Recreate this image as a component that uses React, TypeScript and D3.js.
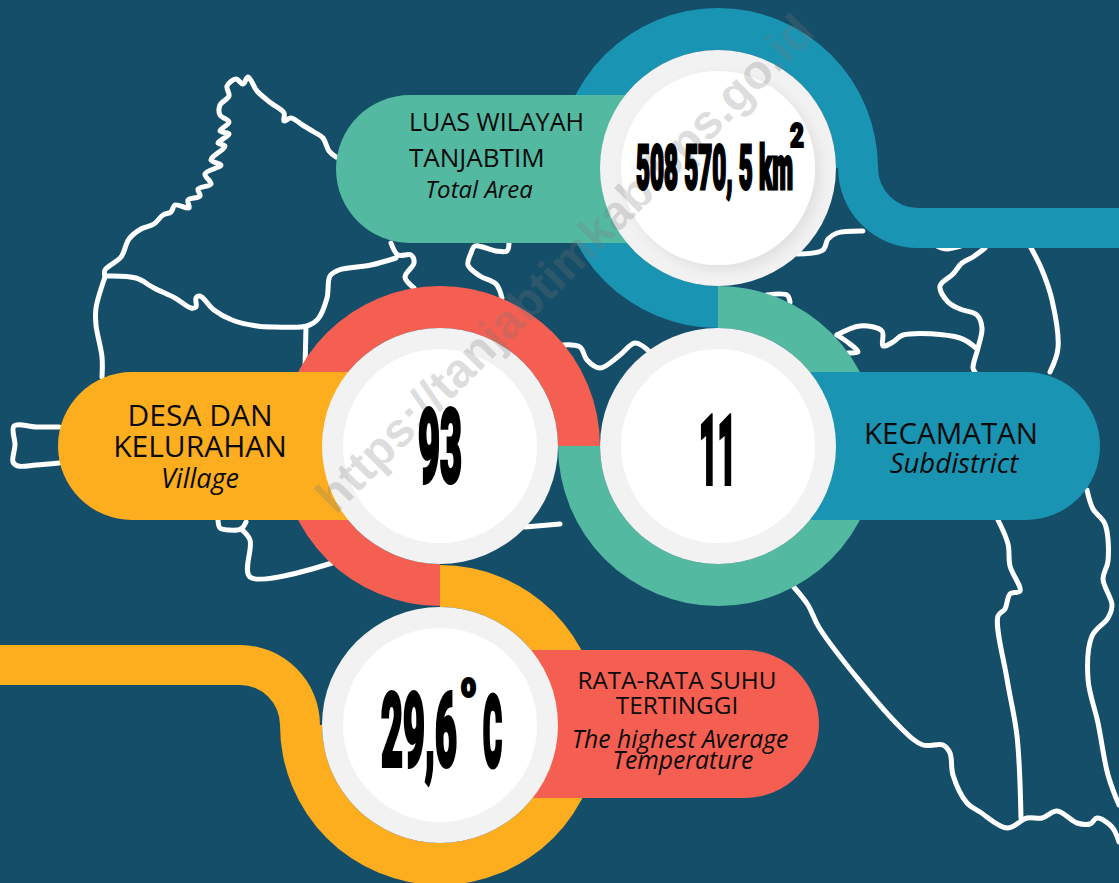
import React from "react";
import * as d3 from "d3";

const W = 1119;
const H = 883;

// --- content ---
const areaLabel = ["LUAS WILAYAH", "TANJABTIM"];
const areaLabelEn = "Total Area";
const areaValue = "508 570, 5 km";
const villageLabel = ["DESA DAN", "KELURAHAN"];
const villageLabelEn = "Village";
const villageValue = "93";
const subdistrictLabel = "KECAMATAN";
const subdistrictLabelEn = "Subdistrict";
const subdistrictValue = "11";
const tempLabel = ["RATA-RATA SUHU", "TERTINGGI"];
const tempLabelEn = ["The highest Average", "Temperature"];
const tempValue = "29,6";
const watermark = "https://tanjabtimkab.bps.go.id";

// --- map outline, one list per border ---
type Pt = [number, number];
const northBorder: Pt[] = [[336,157],[329,151],[323,138],[314,132],[304,126],[291,118],[284,121],[284,113],[271,103],[257,91],[248,77],[243,84],[236,79],[227,86],[229,96],[220,105],[220,115],[229,122],[220,131],[229,134],[218,143],[225,146],[211,160],[221,165],[205,174],[211,184],[198,189],[200,196],[188,200],[189,208],[175,205],[171,212],[163,215],[154,224],[141,229],[129,239],[121,257],[105,270],[105,277]];
const innerBorder: Pt[] = [[105,276],[136,278],[154,288],[175,298],[191,308],[196,307],[196,298],[200,296],[214,310],[232,320],[257,326],[275,327],[307,326],[318,319],[327,298],[330,276],[339,270],[371,265],[396,258]];
const riverA: Pt[] = [[391,243],[398,255],[411,255],[414,263],[405,277],[414,288]];
const westBorder: Pt[] = [[105,277],[96,308],[96,325],[102,357],[102,377]];
const stub: Pt[] = [[306,327],[305,367]];
const westBox: Pt[] = [[59,427],[36,427],[14,426],[15,445],[13,462],[18,466],[36,465],[59,463]];
const riverB: Pt[] = [[509,243],[507,251],[496,251],[475,246],[471,253],[468,265],[480,276],[496,284],[502,298]];
const southA: Pt[] = [[218,520],[220,528],[229,530],[241,529],[246,522]];
const southB: Pt[] = [[241,529],[250,540],[250,577],[332,563]];
const southC: Pt[] = [[525,527],[560,524]];
const midCoast: Pt[] = [[563,345],[580,347],[587,360],[600,368],[620,355],[635,343],[650,352]];
const eastA: Pt[] = [[797,254],[823,250],[828,239],[837,233],[863,231]];
const eastB: Pt[] = [[937,246],[947,249],[967,244]];
const eastC: Pt[] = [[985,248],[973,257],[962,263],[953,274],[940,286],[948,302],[960,309],[977,315],[982,328],[978,348],[973,368],[975,372]];
const eastD: Pt[] = [[837,335],[860,326],[882,331],[883,346],[893,342],[903,335],[960,338],[977,349]];
const eastE: Pt[] = [[837,335],[850,344],[858,352],[848,353]];
const eastF: Pt[] = [[767,295],[787,295],[790,302]];
const rightA: Pt[] = [[1030,246],[1042,270],[1052,300],[1058,348],[1050,372]];
const rightB: Pt[] = [[1087,490],[1093,509],[1105,524],[1108,561],[1103,579],[1112,605],[1108,618],[1092,636],[1088,679],[1098,723],[1108,775],[1119,805]];
const rightC: Pt[] = [[998,520],[1008,544],[1010,566],[1020,591],[1010,594],[1005,609],[998,616],[1007,679],[1017,736],[1021,818]];
const coast: Pt[] = [[792,585],[808,605],[820,629],[900,727],[923,745],[943,745],[950,753],[953,775],[967,803],[980,812],[1007,828],[1027,818],[1042,818],[1057,811],[1077,823],[1090,824],[1097,818],[1112,827],[1119,842]];
const borders = [northBorder, innerBorder, riverA, westBorder, stub, westBox, riverB, southA, southB, southC, midCoast, eastA, eastB, eastC, eastD, eastE, eastF, rightA, rightB, rightC, coast];

const BG = "#154e69";
const TEAL = "#54b9a1";
const BLUE = "#1a94b3";
const RED = "#f55f52";
const ORANGE = "#fdae1f";

const line = d3.line().curve(d3.curveCatmullRom.alpha(0.5));
const ring = d3.arc().innerRadius(118).outerRadius(160);
const bend = d3.arc().innerRadius(40).outerRadius(80);
const PI = Math.PI;

const sans = "'Open Sans', sans-serif";

// squeezed heavy digits, the poster face is not installed
const Heavy = ({ x, y, w, h, sw = 3, children }: any) => (
  <text x={x} y={y} fontFamily="Roboto" fontWeight={900} fontSize={h / 0.71}
    textLength={w} lengthAdjust="spacingAndGlyphs" fill="#000" stroke="#000" strokeWidth={sw}>
    {children}
  </text>
);

const Label = ({ x, y, size, italic, anchor = "middle", fit, children }: any) => (
  <text x={x} y={y} fontFamily={sans} fontSize={size} fontStyle={italic ? "italic" : "normal"}
    textAnchor={anchor} fill="#0a0a0a" textLength={fit} lengthAdjust={fit ? "spacingAndGlyphs" : undefined}>
    {children}
  </text>
);

const Disc = ({ cx, cy, shadow }: any) => (
  <g>
    <circle cx={cx} cy={cy} r={118} fill="#f2f2f2" />
    <circle cx={cx} cy={cy} r={97} fill="#fff" filter={shadow ? "url(#soft)" : undefined} />
  </g>
);

export default function App() {
  return (
    <svg width={W} height={H} style={{ position: "absolute", left: 0, top: 0, background: BG }}>
      <defs>
        <filter id="soft" x="-20%" y="-20%" width="140%" height="140%">
          <feDropShadow dx={5} dy={5} stdDeviation={6} floodColor="#000" floodOpacity={0.08} />
        </filter>
      </defs>

      <g fill="none" stroke="#fff" strokeWidth={5} strokeLinejoin="round" strokeLinecap="round">
        {borders.map((b, i) => <path key={i} d={line(b) as string} />)}
      </g>

      {/* top ring and its tail to the right */}
      <path transform="translate(718,168)" fill={BLUE} d={ring({ startAngle: -PI, endAngle: PI / 2 } as any) as string} />
      <path transform="translate(918,168)" fill={BLUE} d={bend({ startAngle: -PI, endAngle: -PI / 2 } as any) as string} />
      <rect x={918} y={208} width={W - 918} height={40} fill={BLUE} />

      <path transform="translate(440,446)" fill={RED} d={ring({ startAngle: -PI, endAngle: PI / 2 } as any) as string} />
      <path transform="translate(718,446)" fill={TEAL} d={ring({ startAngle: 0, endAngle: (3 * PI) / 2 } as any) as string} />

      {/* bottom ring and its tail to the left */}
      <path transform="translate(440,725)" fill={ORANGE} d={ring({ startAngle: 0, endAngle: (3 * PI) / 2 } as any) as string} />
      <path transform="translate(240,725)" fill={ORANGE} d={bend({ startAngle: 0, endAngle: PI / 2 } as any) as string} />
      <rect x={0} y={645} width={240} height={40} fill={ORANGE} />

      {/* pills: rounded on the free end, square where they go under the disc */}
      <rect x={336} y={95} width={300} height={148} rx={74} fill={TEAL} />
      <rect x={420} y={95} width={298} height={148} fill={TEAL} />
      <rect x={58} y={372} width={300} height={148} rx={74} fill={ORANGE} />
      <rect x={140} y={372} width={300} height={148} fill={ORANGE} />
      <rect x={800} y={372} width={300} height={148} rx={74} fill={BLUE} />
      <rect x={718} y={372} width={300} height={148} fill={BLUE} />
      <rect x={519} y={650} width={300} height={148} rx={74} fill={RED} />
      <rect x={440} y={650} width={300} height={148} fill={RED} />

      <Disc cx={718} cy={168} shadow />
      <Disc cx={440} cy={446} />
      <Disc cx={718} cy={446} />
      <Disc cx={440} cy={725} />

      <Label x={409} y={131} size={26} anchor="start" fit={175}>{areaLabel[0]}</Label>
      <Label x={409} y={167} size={26} anchor="start">{areaLabel[1]}</Label>
      <Label x={479} y={198} size={24} italic>{areaLabelEn}</Label>

      <Label x={200} y={426} size={30}>{villageLabel[0]}</Label>
      <Label x={200} y={457} size={30}>{villageLabel[1]}</Label>
      <Label x={200} y={488} size={27} italic>{villageLabelEn}</Label>

      <Label x={951} y={444} size={29.5}>{subdistrictLabel}</Label>
      <Label x={954} y={473} size={27.5} italic>{subdistrictLabelEn}</Label>

      <Label x={677} y={689} size={24.3}>{tempLabel[0]}</Label>
      <Label x={677} y={714} size={24.3}>{tempLabel[1]}</Label>
      <Label x={680} y={748} size={24.7} italic>{tempLabelEn[0]}</Label>
      <Label x={683} y={769} size={24.7} italic>{tempLabelEn[1]}</Label>

      <text transform="translate(576,275) rotate(-45)" textAnchor="middle" fontFamily="'Liberation Sans'"
        fontWeight="bold" fontSize={48} textLength={680} lengthAdjust="spacingAndGlyphs"
        fill="#787878" fillOpacity={0.26}>
        {watermark}
      </text>

      <Heavy x={636} y={189} w={157} h={44}>{areaValue}</Heavy>
      <Heavy x={790} y={147} w={14} h={23} sw={2}>2</Heavy>
      <Heavy x={418} y={482} w={44} h={73} sw={4}>{villageValue}</Heavy>
      <Heavy x={699} y={484} w={37} h={68} sw={4}>{subdistrictValue}</Heavy>
      <Heavy x={381} y={766} w={76} h={72} sw={4}>{tempValue}</Heavy>
      <Heavy x={461} y={697} w={15} h={25} sw={2}>o</Heavy>
      <Heavy x={483} y={766} w={19} h={70} sw={5}>C</Heavy>
    </svg>
  );
}
